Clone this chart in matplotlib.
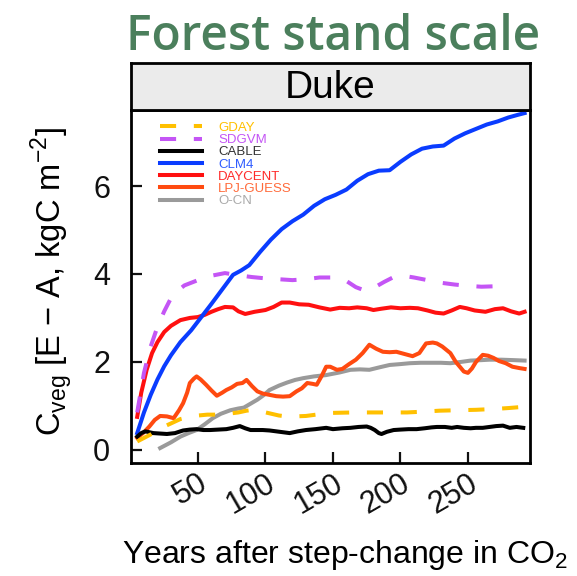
import matplotlib
matplotlib.use("Agg")
import matplotlib.pyplot as plt

# valeurs (annees apres le saut de CO2, Cveg en kgC m-2)
gday_ans = [5, 10, 15, 20, 25, 30, 37, 44, 50, 57, 64, 72, 80, 86, 91, 96, 103, 110, 116, 122,
            130, 140, 150, 165, 177, 190, 205, 218, 229, 242, 256, 270, 280, 288]
gday_val = [0.19, 0.27, 0.35, 0.44, 0.53, 0.6, 0.7, 0.75, 0.78, 0.8, 0.8, 0.82, 0.85, 0.89, 0.91, 0.88, 0.83, 0.78, 0.76, 0.76,
            0.77, 0.81, 0.84, 0.85, 0.85, 0.85, 0.85, 0.87, 0.89, 0.9, 0.91, 0.93, 0.95, 0.97]

sdgvm_ans = [5, 10, 15, 20, 25, 30, 35, 40, 50, 60, 70, 80, 90, 100, 110, 120, 130, 140, 150, 160,
             167, 173, 180, 188, 195, 202, 210, 220, 230, 240, 250, 260, 270, 280]
sdgvm_val = [0.85, 1.75, 2.35, 2.8, 3.15, 3.45, 3.62, 3.74, 3.86, 3.96, 4.02, 3.97, 3.93, 3.9, 3.88, 3.86, 3.88, 3.92, 3.92, 3.84,
             3.7, 3.63, 3.68, 3.82, 3.93, 3.96, 3.92, 3.86, 3.8, 3.76, 3.73, 3.71, 3.72, 3.73]

cable_ans = [5, 8, 11, 14, 17, 22, 27, 33, 39, 44, 49, 54, 59, 65, 71, 76, 81, 85, 89, 94,
             98, 103, 108, 113, 118, 124, 130, 137, 145, 150, 157, 163, 169, 175, 178, 181, 184, 186, 190, 195,
             200, 206, 212, 218, 223, 227, 233, 238, 242, 247, 252, 256, 261, 266, 271, 276, 281, 286, 291]
cable_val = [0.3, 0.38, 0.42, 0.4, 0.38, 0.37, 0.36, 0.38, 0.44, 0.46, 0.47, 0.45, 0.45, 0.46, 0.47, 0.5, 0.54, 0.49, 0.45, 0.45,
             0.45, 0.44, 0.42, 0.4, 0.38, 0.42, 0.45, 0.47, 0.5, 0.47, 0.49, 0.5, 0.52, 0.53, 0.5, 0.45, 0.38, 0.36, 0.41, 0.45,
             0.46, 0.47, 0.47, 0.49, 0.51, 0.52, 0.52, 0.5, 0.52, 0.5, 0.49, 0.5, 0.5, 0.52, 0.54, 0.55, 0.5, 0.52, 0.5]

clm4_ans = [5, 10, 15, 20, 25, 30, 37, 45, 52, 60, 68, 76, 82, 88, 96, 104, 112, 120, 128, 136,
            144, 152, 160, 168, 176, 184, 192, 200, 208, 216, 224, 232, 240, 248, 256, 264, 272, 280, 287, 292]
clm4_val = [0.38, 0.85, 1.25, 1.6, 1.9, 2.15, 2.45, 2.72, 3.0, 3.32, 3.65, 3.98, 4.08, 4.2, 4.5, 4.78, 5.02, 5.2, 5.35, 5.55,
            5.7, 5.8, 5.92, 6.12, 6.27, 6.35, 6.36, 6.55, 6.72, 6.85, 6.9, 6.92, 7.08, 7.2, 7.3, 7.4, 7.47, 7.56, 7.62, 7.66]

daycent_ans = [5, 8, 12, 16, 20, 25, 30, 37, 44, 50, 55, 60, 65, 70, 76, 80, 85, 92, 100, 106,
               112, 118, 125, 132, 140, 148, 155, 162, 168, 175, 180, 186, 193, 200, 207, 213, 220, 226, 232, 238,
               244, 249, 255, 263, 270, 276, 282, 288, 292]
daycent_val = [0.75, 1.3, 1.82, 2.2, 2.45, 2.68, 2.82, 2.95, 3.0, 3.02, 3.07, 3.14, 3.2, 3.25, 3.24, 3.15, 3.09, 3.14, 3.18, 3.25,
               3.35, 3.35, 3.31, 3.3, 3.24, 3.19, 3.23, 3.22, 3.24, 3.22, 3.18, 3.21, 3.24, 3.22, 3.23, 3.22, 3.17, 3.12, 3.1, 3.17,
               3.25, 3.22, 3.17, 3.14, 3.2, 3.22, 3.15, 3.1, 3.14]

lpj_ans = [5, 10, 14, 18, 22, 27, 32, 36, 39, 42, 44, 47, 49, 52, 56, 60, 64, 68, 71, 75,
           79, 83, 86, 90, 94, 98, 103, 108, 113, 118, 123, 127, 131, 135, 138, 142, 145, 148, 153, 157,
           162, 167, 172, 177, 182, 187, 192, 197, 203, 209, 214, 219, 224, 227, 231, 237, 241, 244, 247, 250,
           253, 256, 261, 265, 269, 273, 278, 283, 288, 292]
lpj_val = [0.27, 0.4, 0.53, 0.68, 0.77, 0.76, 0.72, 0.9, 1.06, 1.3, 1.52, 1.62, 1.67, 1.6, 1.48, 1.35, 1.23, 1.3, 1.36, 1.42,
           1.5, 1.52, 1.59, 1.45, 1.33, 1.28, 1.25, 1.22, 1.21, 1.22, 1.33, 1.4, 1.52, 1.5, 1.48, 1.7, 1.89, 1.89, 1.82, 1.84,
           1.95, 2.05, 2.2, 2.39, 2.3, 2.23, 2.22, 2.23, 2.18, 2.13, 2.2, 2.42, 2.44, 2.42, 2.35, 2.2, 2.0, 1.89, 1.78, 1.75,
           1.85, 2.0, 2.16, 2.14, 2.09, 2.02, 1.97, 1.89, 1.86, 1.84]

ocn_ans = [22, 30, 37, 43, 49, 55, 61, 67, 74, 80, 84, 89, 94, 99, 103, 110, 116, 122, 128, 136,
           145, 155, 163, 170, 177, 185, 192, 200, 207, 215, 222, 230, 237, 245, 252, 260, 266, 275, 284, 292]
ocn_val = [0.04, 0.17, 0.3, 0.38, 0.45, 0.58, 0.72, 0.82, 0.9, 0.94, 0.96, 1.05, 1.14, 1.25, 1.36, 1.46, 1.53, 1.59, 1.63, 1.67,
           1.7, 1.76, 1.82, 1.83, 1.82, 1.88, 1.93, 1.95, 1.97, 1.98, 1.98, 1.98, 1.97, 2.0, 2.03, 2.04, 2.05, 2.05, 2.04, 2.03]

modeles = ["GDAY", "SDGVM", "CABLE", "CLM4", "DAYCENT", "LPJ-GUESS", "O-CN"]
couleurs = ["#ffc000", "#c455f5", "#000000", "#0a3cff", "#ff1010", "#ff4a10", "#9a9a9a"]
couleurs_texte = ["#ffc000", "#c455f5", "#333333", "#2f5cff", "#ff2a2a", "#ff6a3a", "#aaaaaa"]
series = [(gday_ans, gday_val), (sdgvm_ans, sdgvm_val), (cable_ans, cable_val), (clm4_ans, clm4_val),
          (daycent_ans, daycent_val), (lpj_ans, lpj_val), (ocn_ans, ocn_val)]
tirets = [True, True, False, False, False, False, False]
ordre = [6, 5, 4, 3, 2, 1, 0]  # ordre de trace (GDAY au dessus)

x_ticks = [50, 100, 150, 200, 250]
y_ticks = [0, 2, 4, 6]

plt.rcParams["font.family"] = ["Liberation Sans", "DejaVu Sans"]
plt.rcParams["mathtext.fontset"] = "custom"
plt.rcParams["mathtext.rm"] = "Liberation Sans"

fig = plt.figure(figsize=(5.77, 5.76), dpi=100)
ax = fig.add_axes([131 / 577, 1 - 463 / 576, 399 / 577, 353 / 576])

lignes = {}
for i in ordre:
    ans, val = series[i]
    if tirets[i]:
        l, = ax.plot(ans, val, color=couleurs[i], lw=2.9, dashes=(4.0, 4.4), zorder=3 + (6 - i))
    else:
        l, = ax.plot(ans, val, color=couleurs[i], lw=2.9, zorder=3 + (6 - i))
    lignes[i] = l

ax.set_xlim(0.4, 296)
ax.set_ylim(-0.3, 7.73)
ax.set_xticks(x_ticks)
ax.set_xticklabels([str(t) for t in x_ticks], rotation=30, ha="right", rotation_mode="anchor")
ax.set_yticks(y_ticks)
ax.tick_params(axis="both", direction="in", length=8, width=1.6, labelsize=22, colors="#111111")
ax.tick_params(axis="y", pad=15)
ax.tick_params(axis="x", pad=4)
for s in ax.spines.values():
    s.set_linewidth(2)

leg = ax.legend([lignes[i] for i in range(7)], modeles, loc="upper left",
                bbox_to_anchor=(0.073, 0.967), frameon=False, fontsize=9.5,
                handlelength=3.2, handletextpad=1.2, labelspacing=0.0,
                borderpad=0, borderaxespad=0)
for t, c in zip(leg.get_texts(), couleurs_texte):
    t.set_color(c)

# bandeau "Duke"
bandeau = fig.add_axes([131 / 577, 1 - 110 / 576, 399 / 577, 47 / 576])
bandeau.set_facecolor("#ebebeb")
bandeau.set_xticks([])
bandeau.set_yticks([])
for s in bandeau.spines.values():
    s.set_linewidth(2)
bandeau.text(0.5, 0.46, "Duke", ha="center", va="center", fontsize=28, transform=bandeau.transAxes)

fig.text(0.578, 0.913, "Forest stand scale", ha="center", va="baseline", fontsize=34.5,
         color="#4b7f5c", family=["Open Sans", "DejaVu Sans"], weight="semibold")

fig.text(0.088, 0.512, "C$_{\\mathregular{veg}}$ [E \u2212 A, kgC m$^{\\mathregular{-2}}$]",
         rotation=90, ha="center", va="center", fontsize=23.5)
fig.text(0.597, 0.022, "Years after step-change in CO$_{\\mathregular{2}}$", ha="center", va="baseline",
         fontsize=23, family=["Liberation Sans Narrow", "Liberation Sans"])

fig.savefig("out.png", dpi=100)
